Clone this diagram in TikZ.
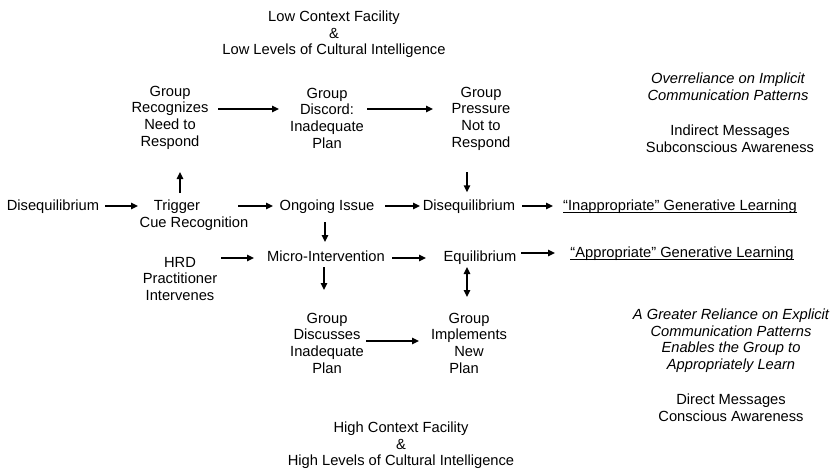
\documentclass[tikz,border=0pt]{standalone}
\usepackage{fontspec}
\setmainfont{Liberation Sans}
\usetikzlibrary{arrows.meta,calc}
\newcommand\ulin[1]{\setbox0\hbox{#1}\rlap{\rule[-2.2pt]{\wd0}{0.9pt}}\box0}
\begin{document}
\begin{tikzpicture}[x=1pt,y=-1pt,
  txt/.style={anchor=north, align=center, inner sep=0pt, font=\fontsize{14.7}{16.7}\selectfont},
  itxt/.style={txt, font=\fontsize{14.7}{16.7}\selectfont\itshape},
  arr/.style={line width=1.4pt, -{Triangle[length=7pt,width=6.5pt]}},
  darr/.style={line width=1.4pt, {Triangle[length=7pt,width=6.5pt]}-{Triangle[length=7pt,width=6.5pt]}}]
\useasboundingbox (0,0) rectangle (836,472);
% texts
\node[txt] (top) at (334,10.7) {Low Context Facility\\\&\hspace*{12pt}\\Low Levels of Cultural Intelligence};
\node[txt] (rec) at (170,85.7) {Group\\Recognizes\\Need to\\Respond};
\node[txt] (disc) at (327,87.7) {Group\\Discord:\\Inadequate\\Plan};
\node[txt] (pres) at (481,86.7) {Group\\Pressure\\Not to\\Respond};
\node[itxt] (impl) at (728,72.7) {Overreliance on Implicit\\Communication Patterns};
\node[txt] (ind) at (730,124.7) {Indirect Messages\\Subconscious Awareness};
\node[txt] (d1) at (53,199.7) {Disequilibrium};
\node[txt] (trig) at (194,199.7) {Trigger\hspace*{34pt}\\Cue Recognition};
\node[txt] (ong) at (327,199.7) {Ongoing Issue};
\node[txt] (d2) at (469,199.7) {Disequilibrium};
\node[txt] (inapp) at (680,199.7) {\ulin{“Inappropriate” Generative Learning}};
\node[txt] (hrd) at (180,256.7) {HRD\\Practitioner\\Intervenes};
\node[txt] (micro) at (326,250.7) {Micro-Intervention};
\node[txt] (equil) at (480,250.7) {Equilibrium};
\node[txt] (app) at (682,246.7) {\ulin{“Appropriate” Generative Learning}};
\node[txt] (disc2) at (327,312.7) {Group\\Discusses\\Inadequate\\Plan};
\node[txt] (implm) at (469,312.7) {Group\\Implements\\New\hspace*{10pt}\\Plan\hspace*{10pt}};
\node[itxt] (expl) at (731,308.7) {A Greater Reliance on Explicit\\Communication Patterns\\Enables the Group to\\Appropriately Learn};
\node[txt] (dir) at (731,393.7) {Direct Messages\\Conscious Awareness};
\node[txt] (bot) at (401,421.7) {High Context Facility\\\&\hspace*{36pt}\\High Levels of Cultural Intelligence};
% connectors
\draw[arr] ($(d1.north)+(52,6.3)$) -- ($(trig.north)+(-56,6.3)$);
\draw[arr] ($(trig.north)+(44,6.3)$) -- ($(ong.north)+(-54,6.3)$);
\draw[arr] ($(trig.north)+(-14,-6.7)$) -- ($(rec.north)+(10,86.3)$);
\draw[arr] ($(rec.north)+(48,23.3)$) -- ($(disc.north)+(-48,21.3)$);
\draw[arr] ($(disc.north)+(40,21.3)$) -- ($(pres.north)+(-48,22.3)$);
\draw[arr] ($(pres.north)+(-14,85.3)$) -- ($(d2.north)+(-2,-7.4)$);
\draw[arr] ($(ong.north)+(58,6.3)$) -- ($(d2.north)+(-49,6.3)$);
\draw[arr] ($(d2.north)+(53,6.3)$) -- ($(inapp.north)+(-127,6.3)$);
\draw[arr] ($(ong.north)+(-2,22.3)$) -- ($(micro.north)+(-1,-8.7)$);
\draw[arr] ($(hrd.north)+(41,1.3)$) -- ($(micro.north)+(-72,7.3)$);
\draw[arr] ($(micro.north)+(66,7.3)$) -- ($(equil.north)+(-54,7.3)$);
\draw[arr] ($(equil.north)+(41,2.3)$) -- ($(app.north)+(-127,6.3)$);
\draw[arr] ($(micro.north)+(-2,16.3)$) -- ($(disc2.north)+(-3,-22.7)$);
\draw[darr] ($(equil.north)+(-13,16.3)$) -- ($(implm.north)+(-2,-15.7)$);
\draw[arr] ($(disc2.north)+(39,28.3)$) -- ($(implm.north)+(-50,28.3)$);
\end{tikzpicture}
\end{document}
